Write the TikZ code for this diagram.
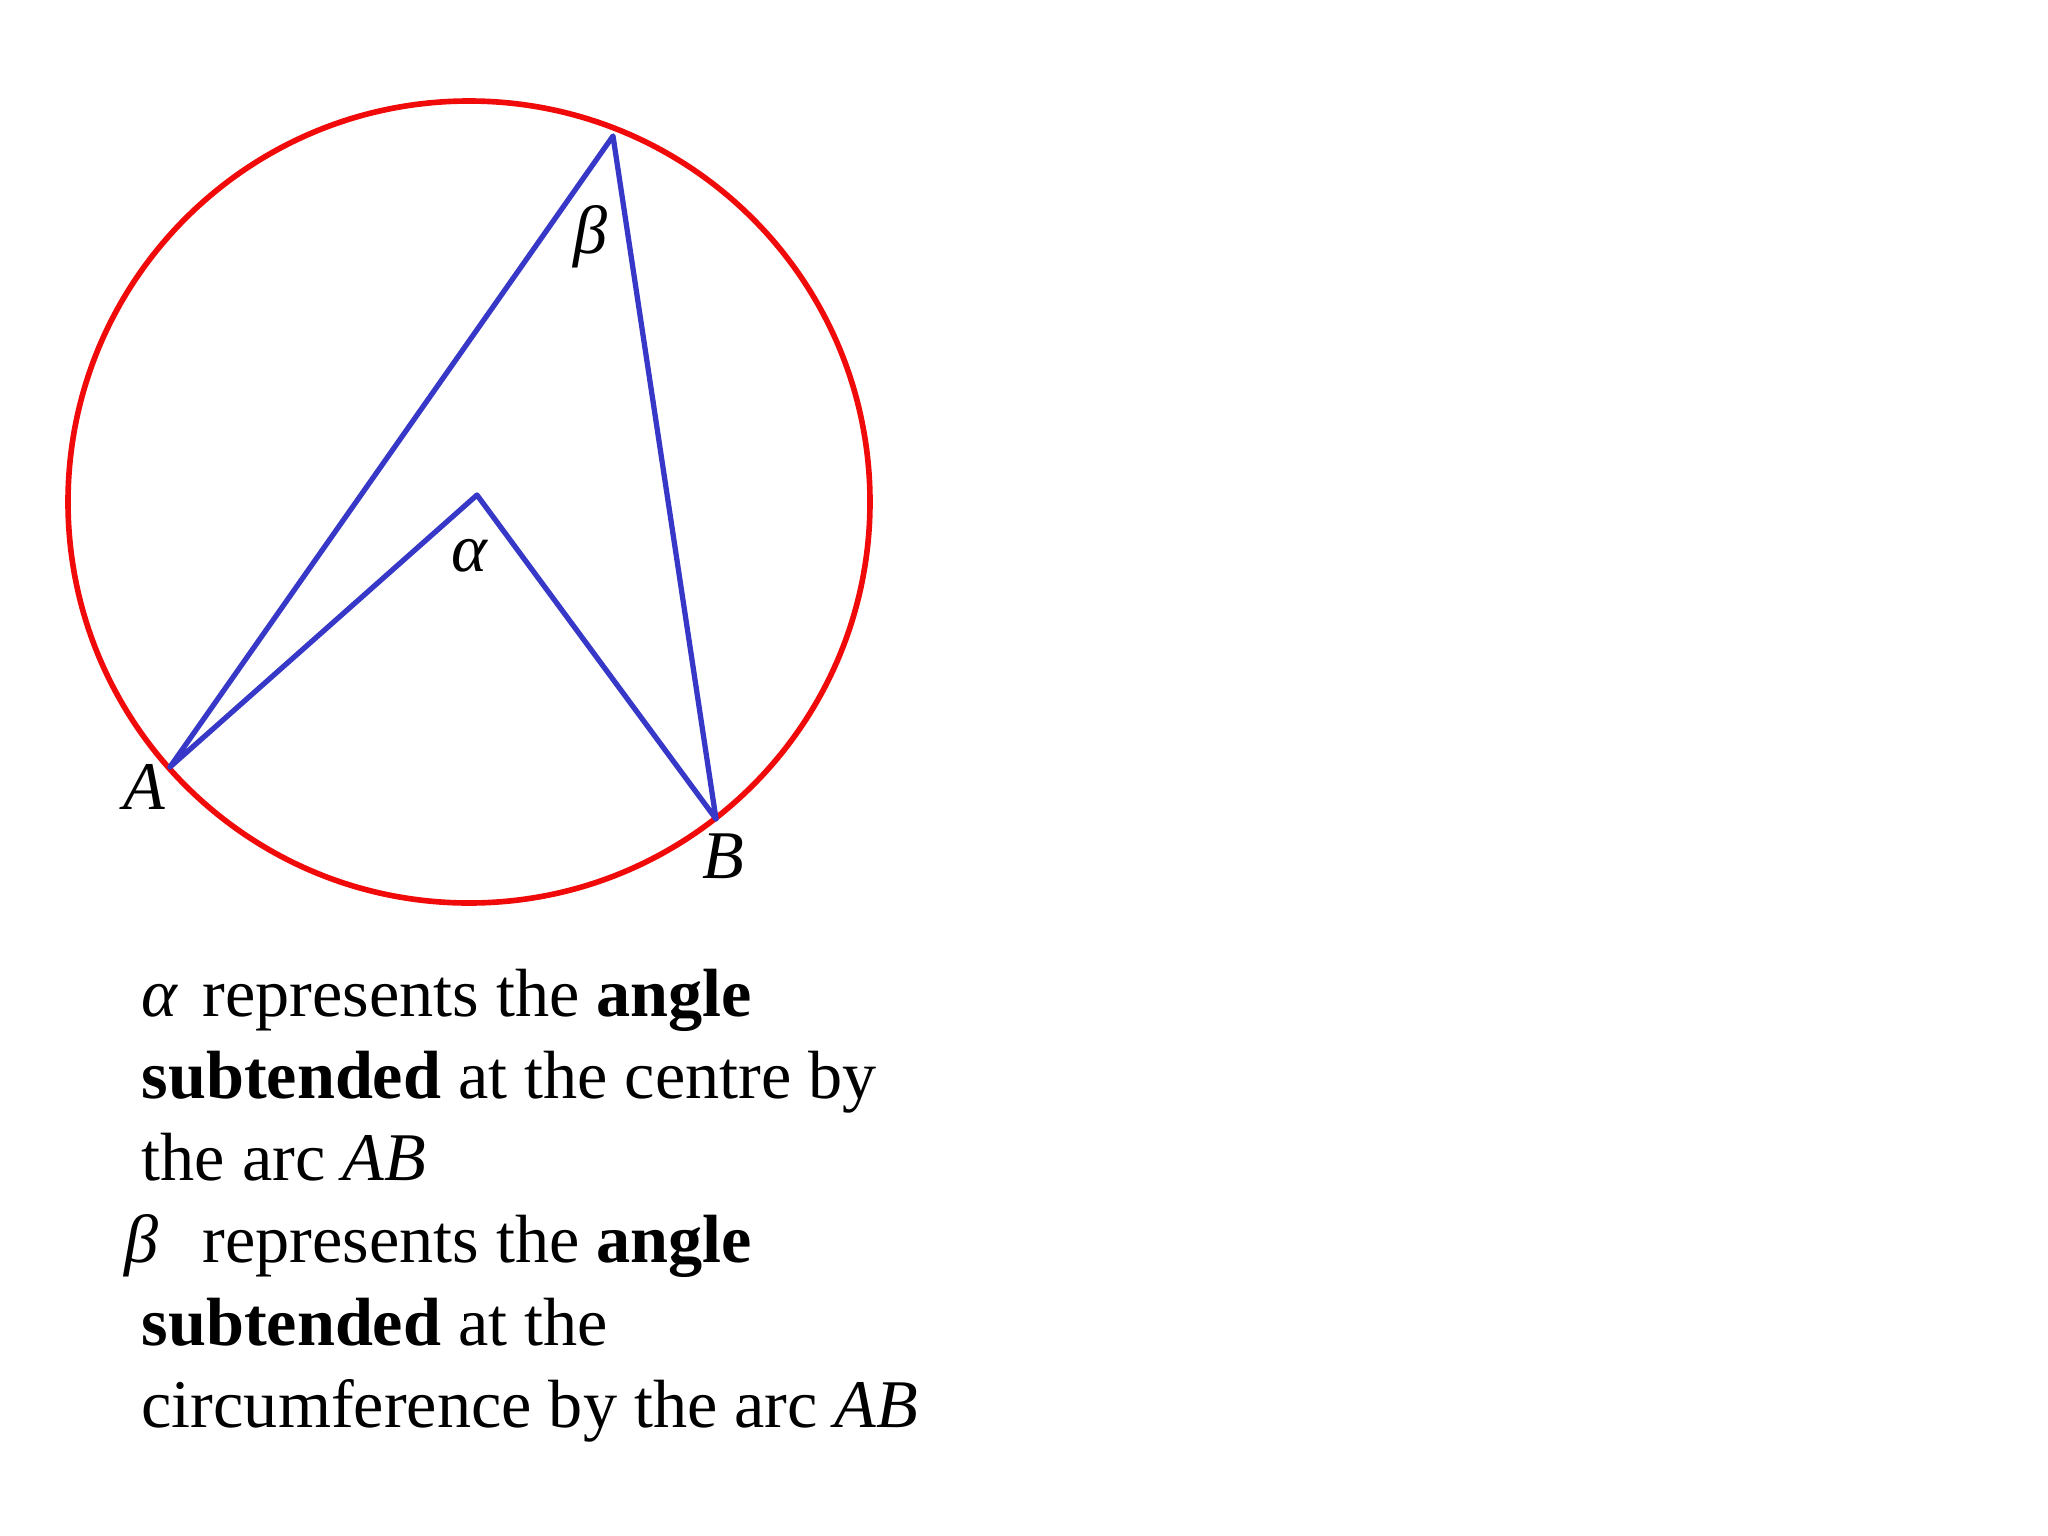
\documentclass[tikz,border=0pt]{standalone}
\usepackage{fontspec}
\setmainfont{Liberation Serif}
\definecolor{circred}{RGB}{240,10,10}
\definecolor{chordblue}{RGB}{55,55,200}
\tikzset{
	lbl/.style={inner sep=0pt,font=\fontsize{19.4}{23}\selectfont\itshape},
	txtbox/.style={inner sep=0pt,align=left,font=\fontsize{19.4}{23.4}\selectfont}
}
\begin{document}
\begin{tikzpicture}[x=0.01cm,y=-0.01cm,line join=round,line cap=round]
\useasboundingbox (0,0) rectangle (2048,1536);
	\coordinate (O) at (469,502);
	\coordinate (A) at (170,767);
	\coordinate (B) at (716,819);
	\coordinate (C) at (613,136);
	\coordinate (M) at (477,495);
	\draw[circred,line width=1.6pt] (O) circle[radius=401];
	\draw[chordblue,line width=1.5pt] (A)--(C)--(B) (A)--(M)--(B);
	\node[lbl] (lA) at (144,787) {A};
	\node[lbl] (lB) at (723,856) {B};
	\node[lbl] (la) at (469,556) {α};
	\node[lbl] (lb) at (590,237) {β};
	\node[txtbox,anchor=north west] (txt) at (141,968)
	{{\itshape α}\hspace{0.08cm} represents the \textbf{angle}\\
	\textbf{subtended} at the centre by\\
	the arc \textit{AB}\\
	\makebox[0pt][l]{\hspace{-0.17cm}\itshape β}\phantom{\itshape α}\hspace{0.08cm} represents the \textbf{angle}\\
	\textbf{subtended} at the\\
	circumference by the arc \textit{AB}};
\end{tikzpicture}
\end{document}
